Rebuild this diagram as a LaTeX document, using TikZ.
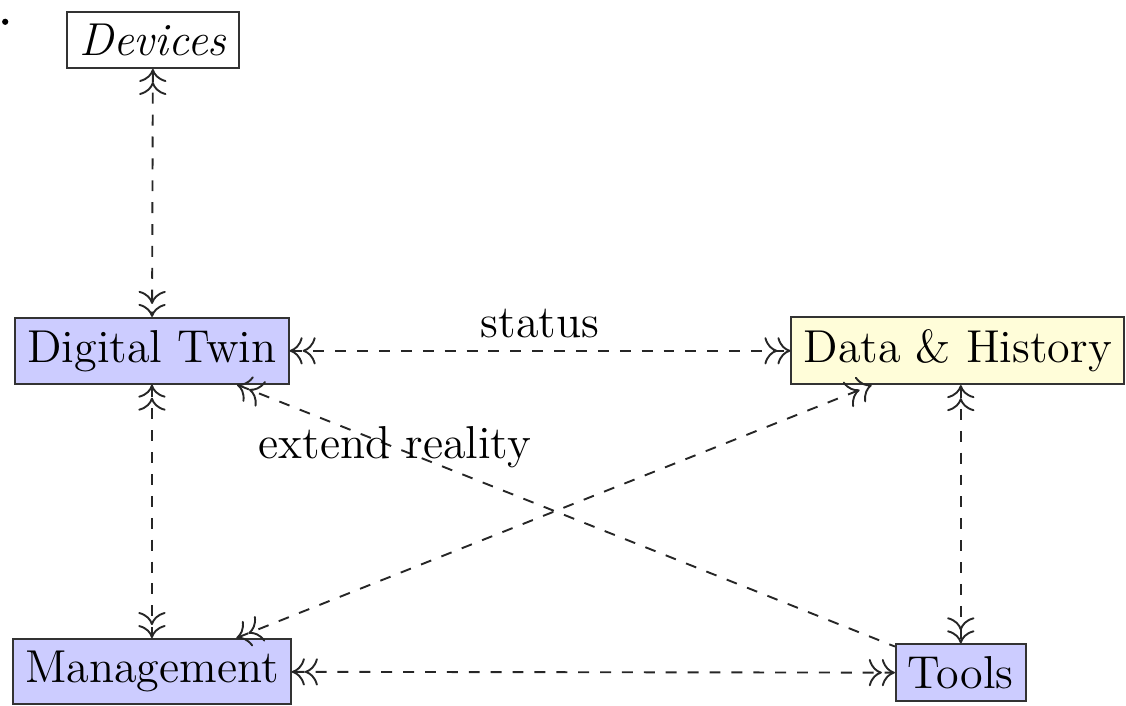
\documentclass[tikz,border=0pt]{standalone}
\usetikzlibrary{arrows.meta}
\begin{document}
\begin{tikzpicture}[font=\fontsize{12.65}{15}\selectfont, line width=0.52pt,
        >={To[scale=1.3]},
        box/.style={draw=black!80, fill=#1},
        link/.style={dashed, black!85}]
        \useasboundingbox (0,0) rectangle (10.85,6.80);
        \fill (0.05,6.59) circle (0.03);
        \node[box=white] (devices) at (1.474,6.416) {\textit{Devices}};
        \node[box=blue!20] (twin) at (1.464,3.420) {Digital Twin};
        \node[box=yellow!15] (data) at (9.229,3.420) {Data \& History};
        \node[box=blue!20] (mgmt) at (1.464,0.328) {Management};
        \node[box=blue!20] (tools) at (9.258,0.318) {Tools};
        \draw[link,<<->>] (devices)--(twin);
        \draw[link,<<->>] (twin)--(data)node[midway,above,black]{status};
        \draw[link,<<->>] (twin)--(mgmt);
        \draw[link,<<->>] (data.south -| tools.north)--(tools.north);
        \draw[link,<<->>] (mgmt)--(tools);
        \draw[link,<<->>] (mgmt)--(data);
        \draw[link,<<-] (twin)--(tools)node[pos=0.24,black]{extend reality};
    \end{tikzpicture}
\end{document}
